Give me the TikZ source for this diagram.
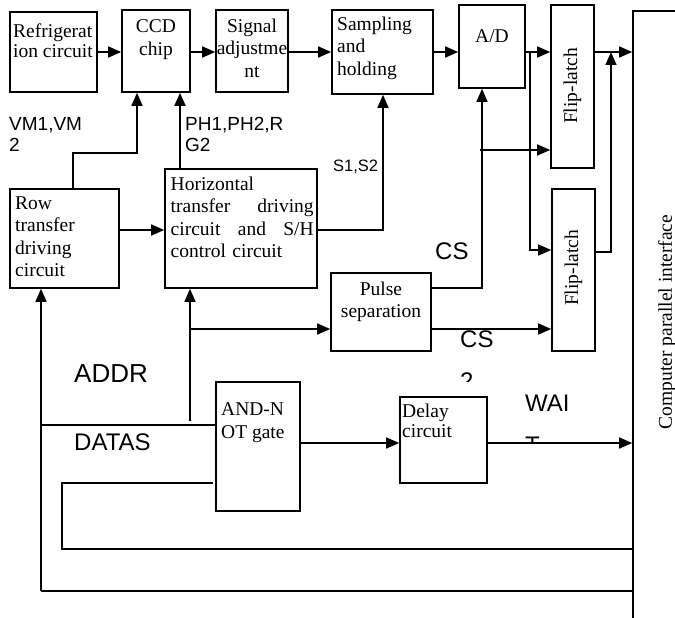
\documentclass[tikz,border=0pt]{standalone}
\usepackage{fontspec}
\setmainfont{Liberation Serif}
\setsansfont{Liberation Sans}
\usetikzlibrary{arrows.meta, positioning}

\begin{document}
\begin{tikzpicture}[
    x=1pt, y=-1pt,
    block/.style={rectangle, draw, line width=1.6pt, inner sep=0pt},
    txt/.style={inner sep=0pt, align=left, font=\fontsize{19.5}{22.5}\selectfont},
    sig/.style={inner sep=0pt, align=left, font=\sffamily\fontsize{19}{21}\selectfont},
    big/.style={inner sep=0pt, align=left, font=\sffamily\fontsize{24}{42}\selectfont},
    arrow/.style={-{Triangle[length=13pt, width=11pt]}, line width=1.6pt},
    wire/.style={line width=1.6pt}
]
    \useasboundingbox (0,0) rectangle (675,618);
    \clip (0,0) rectangle (675,618);

    % blocks
    \node[block, minimum width=87, minimum height=80] (refr) at (53.5,52) {};
    \node[block, minimum width=68, minimum height=82] (ccd) at (156,51) {};
    \node[block, minimum width=72, minimum height=82] (adj) at (252,51) {};
    \node[block, minimum width=101, minimum height=84] (samp) at (382.5,52) {};
    \node[block, minimum width=66, minimum height=83] (ad) at (492,46.5) {};
    \node[block, minimum width=43, minimum height=163] (fl1) at (572.5,86.5) {};
    \node[block, minimum width=43, minimum height=162] (fl2) at (573.5,270) {};
    \node[block, minimum width=152, minimum height=119] (horiz) at (241,228.5) {};
    \node[block, minimum width=109, minimum height=99] (row) at (64.5,238.5) {};
    \node[block, minimum width=100, minimum height=78] (pulse) at (381,312) {};
    \node[block, minimum width=84, minimum height=129] (andnot) at (258,446.5) {};
    \node[block, minimum width=87, minimum height=86] (delay) at (443.5,440) {};
    \node[block, minimum width=127, minimum height=689] (iface) at (696.5,355.5) {};

    % block texts
    \node[txt, anchor=north west, font=\fontsize{19.5}{20}\selectfont] (refrT) at (13,23.5) {Refrigerat\\ion circuit};
    \node[txt, anchor=north, align=center] (ccdT) at (156,19.5) {CCD\\chip};
    \node[txt, anchor=north, align=center] (adjT) at (252,18.5) {Signal\\adjustme\\nt};
    \node[txt, anchor=north west] (sampT) at (337,16.5) {Sampling\\and\\holding};
    \node[txt, anchor=north] (adT) at (492,29.5) {A/D};
    \node[txt, rotate=90] (fl1T) at (572.5,86) {Flip-latch};
    \node[txt, rotate=90] (fl2T) at (573.5,268) {Flip-latch};
    \node[txt, anchor=north west, text width=143pt] (horizT) at (170.5,176.5)
        {Horizontal\\transfer\hfill driving\\circuit\hfill and\hfill S/H\\control circuit};
    \node[txt, anchor=north west] (rowT) at (15,196.5) {Row\\transfer\\driving\\circuit};
    \node[txt, anchor=north, align=center] (pulseT) at (381,281.5) {Pulse\\separation};
    \node[txt, anchor=north west] (andnotT) at (221,402.5) {AND-N\\OT gate};
    \node[txt, anchor=north west, font=\fontsize{19.5}{20}\selectfont] (delayT) at (402,403.5) {Delay\\circuit};
    \node[txt, rotate=90] (ifaceT) at (667,322) {Computer parallel interface};

    % signal labels
    \node[sig, anchor=north west] (vmL) at (9,117.5) {VM1,VM\\2};
    \node[sig, anchor=north west] (phL) at (185,117.5) {PH1,PH2,R\\G2};
    \node[sig, anchor=north west, font=\sffamily\fontsize{16.5}{20}\selectfont] (sL) at (333,160) {S1,S2};
    \node[big, anchor=north west] (csA) at (435,243) {CS};
    \node[big, anchor=north west, font=\sffamily\fontsize{26}{30}\selectfont] (addrL) at (74,364) {ADDR};
    \node[big, anchor=north west] (datasL) at (74,434) {DATAS};
    \begin{scope}
        \clip (440,320) rectangle (520,381);
        \node[big, anchor=north west] (csB) at (460,331) {CS\\2};
    \end{scope}
    \begin{scope}
        \clip (510,380) rectangle (600,441);
        \node[big, anchor=north west] (waitL) at (525,395) {WAI\\T};
    \end{scope}

    % bus points
    \coordinate (busbot) at (41,591);
    \coordinate (busdat) at (41,425);
    \coordinate (busloop) at (213,483);
    \coordinate (addrbot) at (190,421);
    \coordinate (vmbend) at (137,153);

    % top chain
    \draw[arrow] (refr.east |- 0,52) -- (ccd.west |- 0,52);
    \draw[arrow] (ccd.east |- 0,52) -- (adj.west |- 0,52);
    \draw[arrow] (adj.east |- 0,52) -- (samp.west |- 0,52);
    \draw[arrow] (samp.east |- 0,52) -- (ad.west |- 0,52);
    \draw[arrow] (ad.east |- 0,52) -- (fl1.west |- 0,52);
    \draw[arrow] (530,52) |- (fl2.west |- 0,250);
    \draw[arrow] (fl1.east |- 0,52) -- (iface.west |- 0,52);
    \draw[arrow] (fl2.east |- 0,252) -| (611,52);

    % drivers
    \draw[arrow] (row.north -| 73,0) |- (vmbend) -- (ccd.south -| vmbend);
    \draw[arrow] (horiz.north -| 180,0) -- (ccd.south -| 180,0);
    \draw[arrow] (horiz.east |- 0,230) -| (samp.south -| 383,0);
    \draw[arrow] (row.east |- 0,230) -- (horiz.west |- 0,230);

    % chip select
    \draw[arrow] (pulse.east |- 0,288) -| (ad.south -| 482,0);
    \draw[arrow] (480,150) -- (fl1.west |- 0,150);
    \draw[arrow] (pulse.east |- 0,329) -- (fl2.west |- 0,329);

    % address and data lines
    \draw[arrow] (addrbot) -- (horiz.south -| addrbot);
    \draw[arrow] (addrbot |- 0,329) -- (pulse.west |- 0,329);
    \draw[arrow] (busbot) -- (row.south -| busbot);
    \draw[wire] (busbot) -- (iface.west |- busbot);
    \draw[wire] (busdat) -- (andnot.west |- busdat);
    \draw[wire] (busloop) -| (62,549) -- (iface.west |- 0,549);
    \draw[arrow] (andnot.east |- 0,443) -- (delay.west |- 0,443);
    \draw[arrow] (delay.east |- 0,443) -- (iface.west |- 0,443);
\end{tikzpicture}
\end{document}
